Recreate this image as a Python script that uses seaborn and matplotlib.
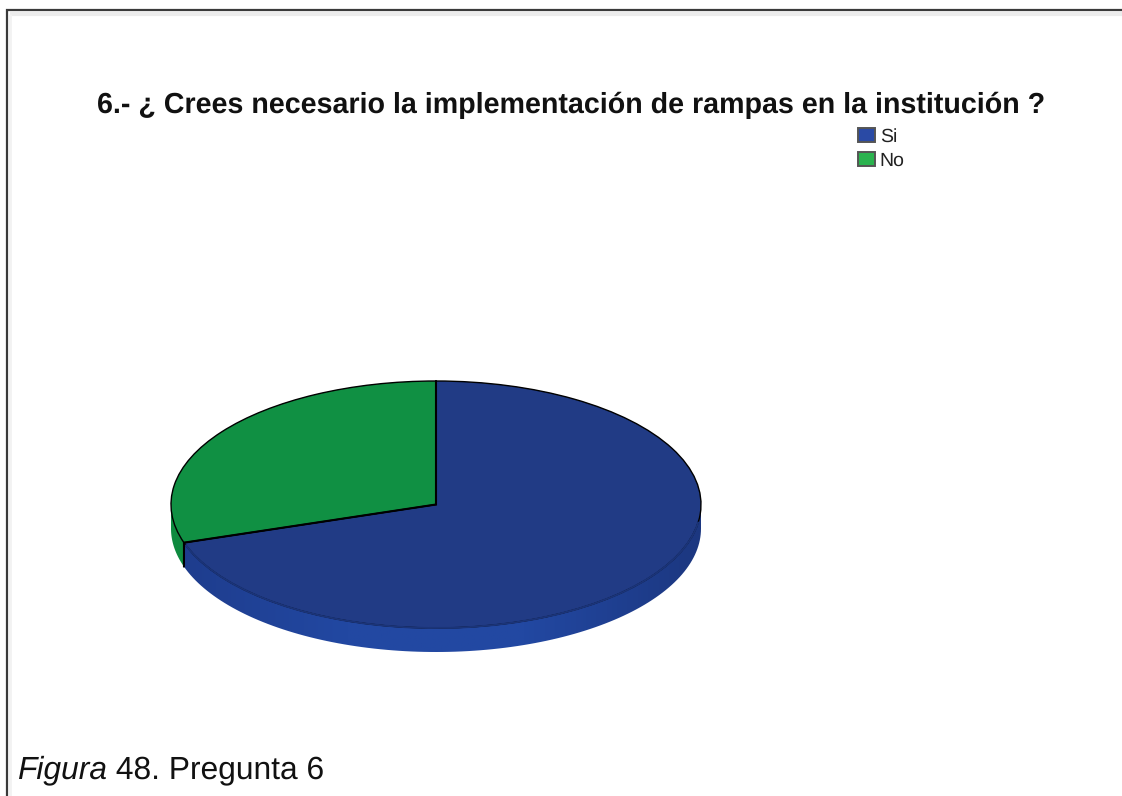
"""Recreates the pie chart for survey question 6 (Figura 48)."""

import matplotlib

matplotlib.use("Agg")

import matplotlib.pyplot as plt
import numpy as np
import seaborn as sns
from matplotlib.patches import Arc, Patch, Polygon

TITLE = "6.- ¿ Crees necesario la implementación de rampas en la institución ?"
CATEGORIES = ["Si", "No"]
VALUES = [70, 30]

TOP_COLORS = ["#213b85", "#109043"]
WALL_BLUES = ["#1e3c8c", "#2248a2", "#2248a2", "#1c3780"]
WALL_GREEN = "#0e8a3f"
LEGEND_COLORS = ["#2a4aa5", "#2bb34f"]

WIDTH, HEIGHT = 1122, 796
DEPTH = 24 / 123.5


def _pixel_axes(fig, left, top, right, bottom):
    """Adds axes placed with pixel coordinates measured from the top left."""
    return fig.add_axes(
        [left / WIDTH, 1 - bottom / HEIGHT, (right - left) / WIDTH, (bottom - top) / HEIGHT]
    )


def _draw_frame(fig):
    """Draws the screenshot border, the title and the caption."""
    ax = _pixel_axes(fig, 0, 0, WIDTH, HEIGHT)
    ax.set_xlim(0, WIDTH)
    ax.set_ylim(HEIGHT, 0)
    ax.axis("off")
    # soft shadow inside the border
    ax.plot([10, WIDTH], [14, 14], color="#ececec", lw=3, solid_capstyle="butt")
    ax.plot([10, 10], [14, HEIGHT], color="#f2f2f2", lw=2, solid_capstyle="butt")
    ax.plot([7, 7, WIDTH], [HEIGHT, 10, 10], color="#3a3a3a", lw=1.6, solid_joinstyle="miter")

    ax.text(
        571.5, 113, TITLE, ha="center", va="baseline", fontsize=20.65,
        fontweight="bold", color="#111111",
    )
    figura = ax.text(17.5, 778, "Figura", fontsize=22.9, style="italic", va="baseline", color="#111111")
    end = figura.get_window_extent(fig.canvas.get_renderer()).x1
    ax.text(end, 778, " 48. Pregunta 6", fontsize=22.9, va="baseline", color="#111111")


def _wall(first, last):
    """Returns the outline of the pie wall between two angles in degrees."""
    angles = np.radians(np.linspace(first, last, 120))
    upper = np.column_stack([np.cos(angles), np.sin(angles)])
    lower = upper[::-1] - [0, DEPTH]
    return np.vstack([upper, lower])


def _draw_pie(fig):
    """Draws the tilted pie: side wall first, then the outlined top."""
    ax = _pixel_axes(fig, 171, 381, 701, 652)
    split = 90 - 360 * VALUES[0] / sum(VALUES) + 360

    ax.add_patch(Polygon(_wall(180, split), facecolor=WALL_GREEN, edgecolor="none"))
    blue_wall = Polygon(_wall(split, 360), facecolor="none", edgecolor="none")
    ax.add_patch(blue_wall)
    shades = sns.blend_palette(WALL_BLUES, n_colors=256, as_cmap=True)
    gradient = ax.imshow(
        np.linspace(0, 1, 256)[None, :], cmap=shades, aspect="auto",
        extent=(-1, 1, -1 - DEPTH, 0.1), zorder=1,
    )
    gradient.set_clip_path(blue_wall)

    ax.pie(
        VALUES, colors=sns.color_palette(TOP_COLORS), startangle=90, counterclock=False,
        wedgeprops={"linewidth": 1.0, "edgecolor": "black", "zorder": 2},
    )

    # the front rim has no black outline, only a faint dark seam
    ax.add_patch(Arc((0, 0), 2, 2, theta1=split + 1, theta2=352, color="#1b3478", lw=1.4, zorder=3))
    # radial edges are heavier than the rim, and continue down the wall at the split
    x = np.cos(np.radians(split))
    y = np.sin(np.radians(split))
    ax.plot([0, 0, x, x], [1, 0, y, y - DEPTH], color="black", lw=1.5, zorder=3, solid_joinstyle="miter")

    ax.set_aspect("auto")
    ax.set_xlim(-1, 1)
    ax.set_ylim(-1 - DEPTH, 1)
    ax.axis("off")
    for artist in ax.get_children():
        if artist is not gradient:
            artist.set_clip_on(False)


def _draw_legend(fig):
    """Adds the legend with its lighter swatches at the upper right."""
    handles = [
        Patch(facecolor=color, edgecolor="#555555", linewidth=1.4, label=label)
        for color, label in zip(LEGEND_COLORS, CATEGORIES)
    ]
    fig.legend(
        handles=handles, loc="upper left", bbox_to_anchor=(858 / WIDTH, 1 - 128 / HEIGHT),
        frameon=False, fontsize=14, handlelength=0.87, handleheight=0.77,
        handletextpad=0.25, labelspacing=0.3, borderpad=0, borderaxespad=0,
        labelcolor="#222222",
    )


def main():
    sns.set_theme(style="white")
    plt.rcParams["font.family"] = ["Liberation Sans", "DejaVu Sans"]
    plt.rcParams["text.hinting"] = "none"
    fig = plt.figure(figsize=(WIDTH / 100, HEIGHT / 100), dpi=100)
    _draw_frame(fig)
    _draw_pie(fig)
    _draw_legend(fig)
    fig.savefig("out.png", dpi=100)
    plt.close(fig)


if __name__ == "__main__":
    main()
